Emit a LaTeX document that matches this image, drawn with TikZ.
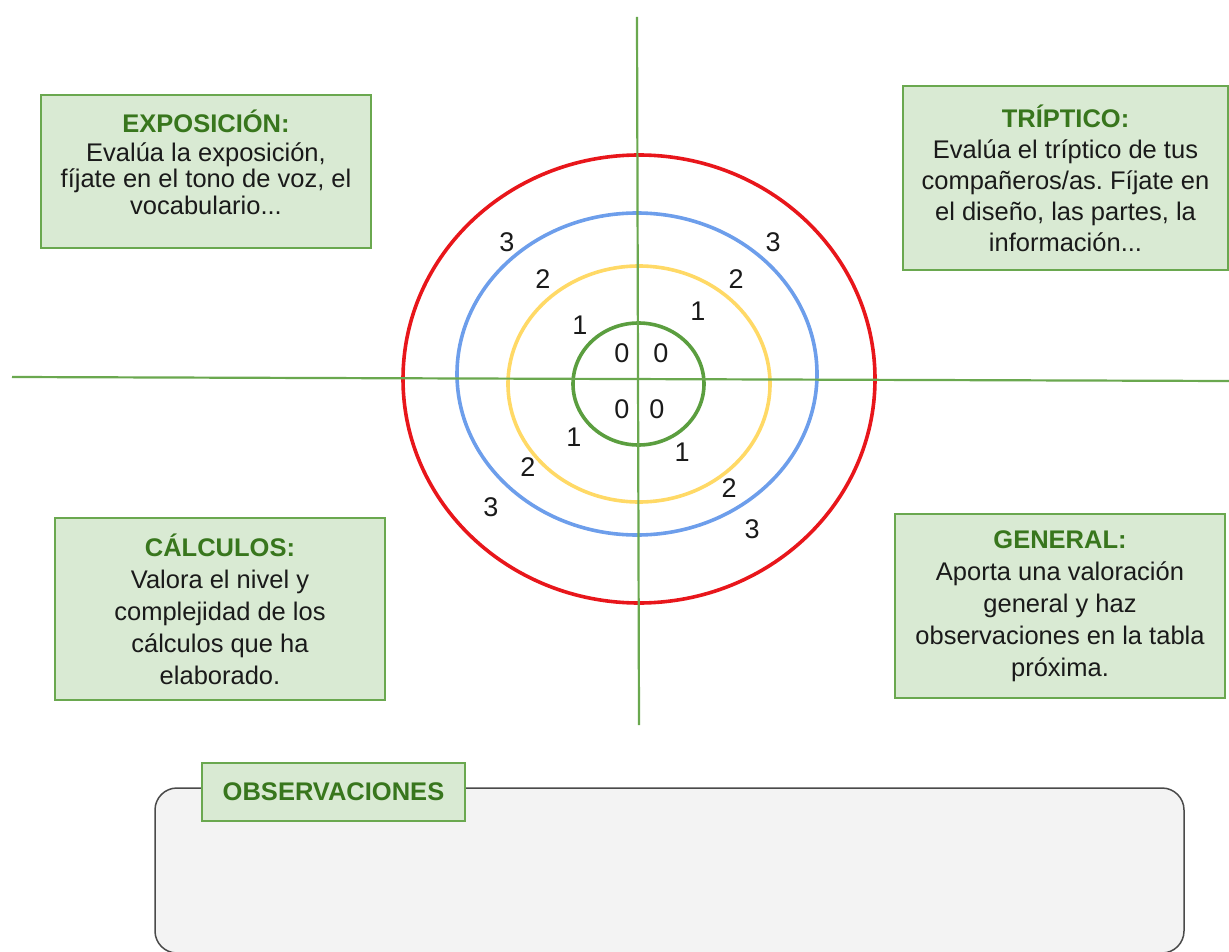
\documentclass[tikz,border=0pt]{standalone}
\usepackage{fontspec}
\setmainfont{Liberation Sans}
\frenchspacing
\definecolor{boxfill}{HTML}{D9EAD3}
\definecolor{boxline}{HTML}{6AA84F}
\definecolor{titlegreen}{HTML}{38761D}
\definecolor{ringred}{HTML}{E8161B}
\definecolor{ringblue}{HTML}{6D9EEB}
\definecolor{ringyellow}{HTML}{FFD966}
\definecolor{ringgreen}{HTML}{5B9E3F}
\definecolor{axisgreen}{HTML}{6AA84F}
\definecolor{obsfill}{HTML}{F3F3F3}
\definecolor{obsline}{HTML}{4A4A4A}
\definecolor{txt}{HTML}{1A1A1A}
\tikzset{
  infobox/.style={draw=boxline, line width=2.2pt, fill=boxfill, align=center,
    text=txt, inner sep=0pt, font=\fontsize{25.5}{32}\selectfont},
  boxtext/.style={align=center, text=txt, inner sep=0pt},
  ringlab/.style={text=txt, font=\fontsize{27}{30}\selectfont, inner sep=0pt},
  ring/.style={line width=3.6pt},
  axis/.style={draw=axisgreen, line width=2.2pt},
}
\newcommand{\boxtitle}[1]{\textcolor{titlegreen}{\bfseries #1}}
\begin{document}
\begin{tikzpicture}[x=1pt,y=-1pt]
\useasboundingbox (0,0) rectangle (1229,952);
% axes
\coordinate (vt) at (637,17);
\coordinate (vb) at (639,725);
\coordinate (hl) at (12,377);
\coordinate (hr) at (1229,381);
% rings
\draw[ring, draw=ringred] (639,379) ellipse [x radius=236, y radius=224];
\draw[ring, draw=ringblue] (637,374) ellipse [x radius=180, y radius=161];
\draw[ring, draw=ringyellow] (639,384) ellipse [x radius=131, y radius=118];
\draw[ring, draw=ringgreen] (638.5,384) ellipse [x radius=65.5, y radius=61];
\draw[axis] (vt) -- (vb);
\draw[axis] (hl) -- (hr);
% ring labels
\node[ringlab] (l3a) at (507,242) {3};
\node[ringlab] (l2a) at (543,279) {2};
\node[ringlab] (l1a) at (580,325) {1};
\node[ringlab] (l0a) at (622,353) {0};
\node[ringlab] (l0b) at (661,353) {0};
\node[ringlab] (l3b) at (773,242) {3};
\node[ringlab] (l2b) at (736,279) {2};
\node[ringlab] (l1b) at (698,311) {1};
\node[ringlab] (l0c) at (622,409) {0};
\node[ringlab] (l0d) at (657,409) {0};
\node[ringlab] (l1c) at (574,437) {1};
\node[ringlab] (l2c) at (528,467) {2};
\node[ringlab] (l3c) at (491,507) {3};
\node[ringlab] (l1d) at (682,452) {1};
\node[ringlab] (l2d) at (729,488) {2};
\node[ringlab] (l3d) at (752,529) {3};
% boxes
\node[infobox, minimum width=330, minimum height=153] (expo) at (206,171.5) {};
\node[boxtext, font=\fontsize{25.5}{26.5}\selectfont] (expot) at ([yshift=9pt]expo.center)
  {\boxtitle{EXPOSICIÓN:}\\[2pt]Evalúa la exposición,\\fíjate en el tono de voz, el\\vocabulario...};
\node[infobox, font=\fontsize{25.5}{31}\selectfont, minimum width=325, minimum height=184] (trip) at (1065.5,178)
  {\boxtitle{TRÍPTICO:}\\Evalúa el tríptico de tus\\compañeros/as. Fíjate en\\el diseño, las partes, la\\información...};
\node[infobox, minimum width=330, minimum height=182] (calc) at (220,609)
  {\boxtitle{CÁLCULOS:}\\Valora el nivel y\\complejidad de los\\cálculos que ha\\elaborado.};
\node[infobox, minimum width=330, minimum height=184] (gen) at (1060,606)
  {\boxtitle{GENERAL:}\\Aporta una valoración\\general y haz\\observaciones en la tabla\\próxima.};
% observations
\draw[draw=obsline, line width=1.5pt, fill=obsfill, rounded corners=22] (155,788) rectangle (1184,953);
\node[infobox, minimum width=263, minimum height=58] (obs) at (333.5,792) {\boxtitle{OBSERVACIONES}};
\end{tikzpicture}
\end{document}
